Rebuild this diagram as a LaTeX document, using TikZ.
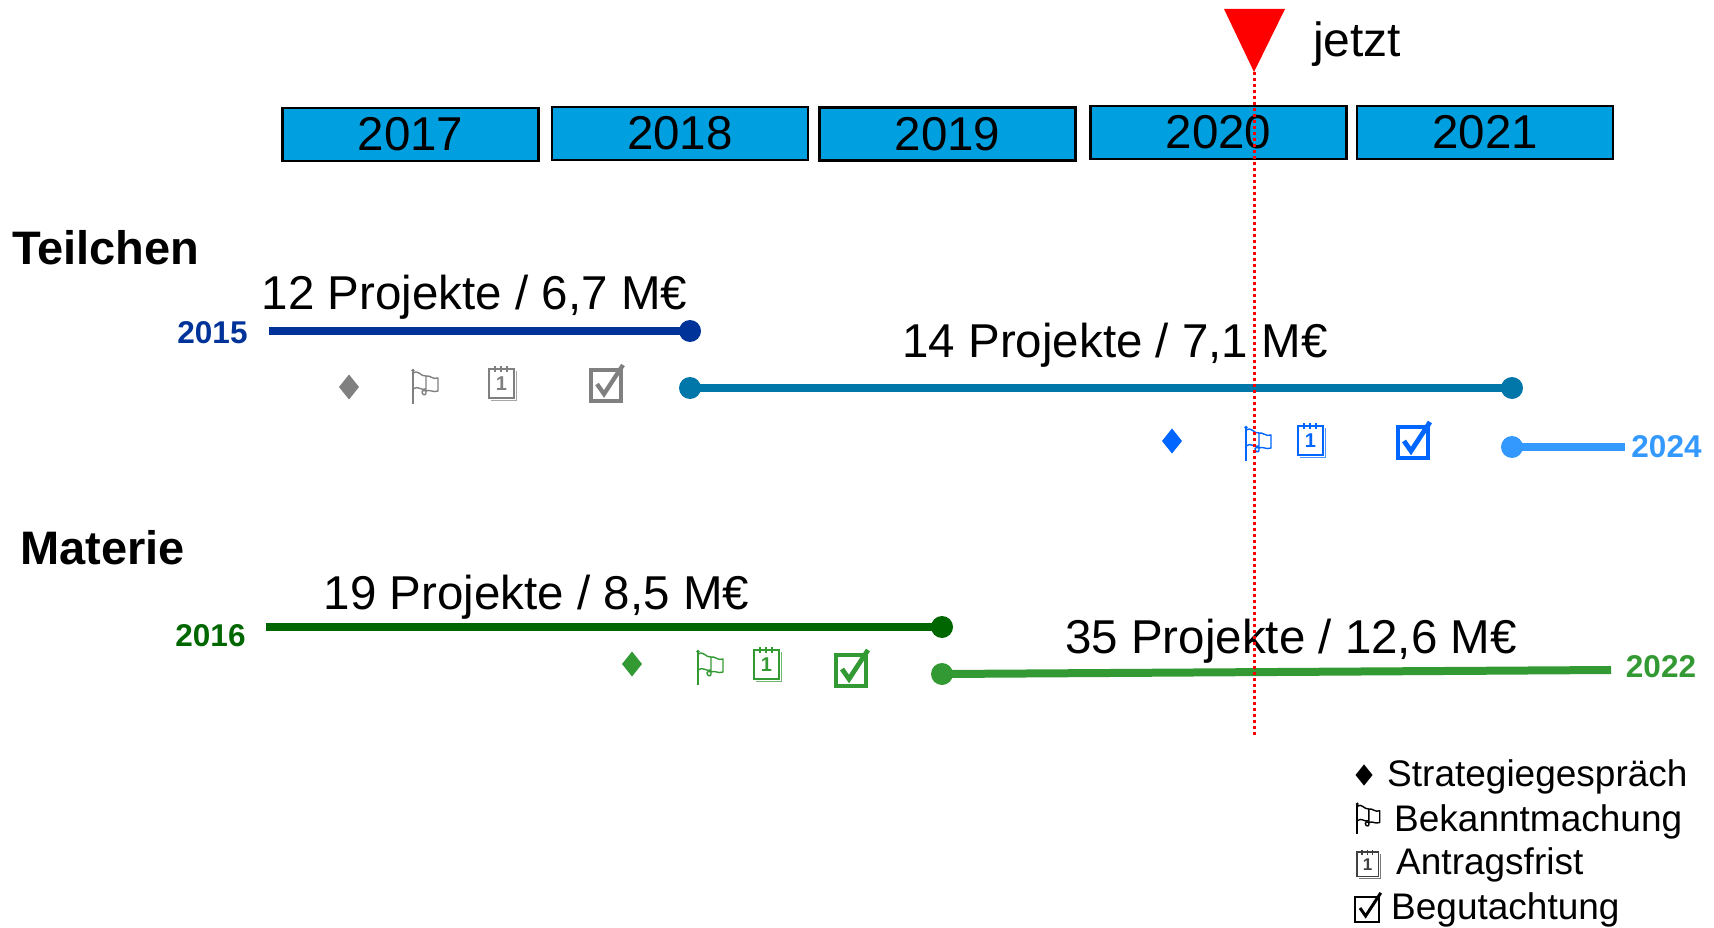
\documentclass[tikz,border=0pt]{standalone}
\usepackage{fontspec}
\setmainfont{Liberation Sans}
\definecolor{yearblue}{RGB}{0,160,224}
\definecolor{dkblue}{RGB}{0,51,153}
\definecolor{tealline}{RGB}{0,119,168}
\definecolor{ltblue}{RGB}{51,153,255}
\definecolor{dkgreen}{RGB}{0,102,0}
\definecolor{ltgreen}{RGB}{51,153,51}
\definecolor{icongray}{RGB}{128,128,128}
\definecolor{iconblue}{RGB}{0,102,255}
\definecolor{icongreen}{RGB}{51,153,51}
\tikzset{
  yearbox/.style={draw=black, line width=2.5pt, fill=yearblue, minimum width=256pt,
    minimum height=53pt, inner sep=0pt, font=\fontsize{47.5}{50}\selectfont},
  biglabel/.style={font=\fontsize{47.5}{50}\selectfont, anchor=base, inner sep=0pt},
  headlabel/.style={font=\bfseries\fontsize{47}{50}\selectfont, anchor=base west, inner sep=0pt},
  yearlabel/.style={font=\bfseries\fontsize{31.5}{33}\selectfont, anchor=base, inner sep=0pt},
  leglabel/.style={font=\fontsize{37}{40}\selectfont, anchor=base west, inner sep=0pt},
  enddot/.style={circle, fill=#1, inner sep=0pt, minimum size=22pt},
  tline/.style={draw=#1, line width=8pt},
  pics/diam/.style={code={\fill (0,-12.5) -- (10,0) -- (0,12.5) -- (-10,0) -- cycle;}},
  pics/flagicon/.style={code={
    \draw[line width=1.7pt] (-12,-15) -- (-12,18);
    \fill (-12,-15.5) circle (1.8pt);
    \draw[line width=1.4pt, line join=round] (-12,-13) .. controls (-7,-17) and (-4,-9) .. (1,-10)
       .. controls (5,-11) and (8,-6) .. (13,-8) -- (13,5) .. controls (8,7) and (5,3) .. (1,5);
    \draw[line width=1.4pt] (-12,3) .. controls (-7,-1) and (-4,5) .. (1,3);
    \draw[line width=1.4pt] (1,-10) -- (1,7) .. controls (1,10) and (-3,9) .. (-3,6)
       .. controls (-3,4) and (-1,4) .. (1,5);
  }},
  pics/calicon/.style={code={
    \draw[line width=1.3pt] (-13,-14) rectangle (12,15);
    \draw[line width=0.8pt, opacity=0.7] (-11,17) -- (14,17) -- (14,-12);
    \foreach \xx in {-7,-1,5} {\draw[line width=1.2pt] (\xx,-17) -- (\xx,-11);}
    \node[font=\bfseries\fontsize{#1}{#1}\selectfont, inner sep=0pt] at (-0.5,1) {1};
  }},
  pics/chkicon/.style={code={
    \draw[line width=#1pt] (-16,-14) rectangle (14,17);
    \draw[line width=#1pt+0.8pt, line join=miter] (-10,0) -- (-3,10) -- (16,-19);
  }},
}
\begin{document}
\begin{tikzpicture}[x=1pt, y=-1pt]
\useasboundingbox (0,0) rectangle (1714,928);

% year boxes
\node[yearbox] (y2017) at (410.5,134.5) {2017};
\node[yearbox] (y2018) at (680,133.5) {2018};
\node[yearbox] (y2019) at (947.5,134) {2019};
\node[yearbox] (y2020) at (1218.5,132.5) {2020};
\node[yearbox] (y2021) at (1485,132.5) {2021};

% now marker
\fill[red] (1224,9) -- (1285,9) -- (1254,72) -- cycle;
\node[font=\fontsize{48}{50}\selectfont, anchor=base west, inner sep=0pt] (jetzt) at (1313,57) {jetzt};

% headings
\node[headlabel] (teil) at (12,265) {Teilchen};
\node[headlabel] (mat) at (20,564) {Materie};

% Teilchen lines
\node[yearlabel, text=dkblue] (l2015) at (212.5,343) {2015};
\coordinate (t1s) at (269,331);
\node[enddot=dkblue] (t1e) at (690,331) {};
\draw[tline=dkblue] (t1s) -- (t1e.center);
\node[biglabel] (p12) at (474.5,309) {12 Projekte / 6,7 M€};

\node[enddot=tealline] (t2s) at (690,388) {};
\node[enddot=tealline] (t2e) at (1512,388) {};
\draw[tline=tealline] (t2s.center) -- (t2e.center);
\node[biglabel] (p14) at (1115,357) {14 Projekte / 7,1 M€};

\node[enddot=ltblue] (t3s) at (1512,447) {};
\coordinate (t3e) at (1625,447);
\draw[tline=ltblue] (t3s.center) -- (t3e);
\node[yearlabel, text=ltblue] (l2024) at (1666.5,457) {2024};

% Teilchen icons (gray)
\pic[icongray] at (349,387) {diam};
\pic[icongray] at (425,386) {flagicon};
\pic[icongray] at (502,383) {calicon=20};
\pic[icongray] at (607,384) {chkicon=3.5};

% Teilchen icons (blue)
\pic[iconblue] at (1172,441) {diam};
\pic[iconblue] at (1258,443) {flagicon};
\pic[iconblue] at (1311,440) {calicon=20};
\pic[iconblue] at (1414,441) {chkicon=4};

% Materie lines
\node[yearlabel, text=dkgreen] (l2016) at (210.5,646) {2016};
\coordinate (m1s) at (266,627);
\node[enddot=dkgreen] (m1e) at (942,627) {};
\draw[tline=dkgreen] (m1s) -- (m1e.center);
\node[biglabel] (p19) at (536.5,609) {19 Projekte / 8,5 M€};

\node[enddot=ltgreen] (m2s) at (942,674) {};
\coordinate (m2e) at (1611,670);
\draw[tline=ltgreen] (m2s.center) -- (m2e);
\node[biglabel] (p35) at (1291,653) {35 Projekte / 12,6 M€};
\node[yearlabel, text=ltgreen] (l2022) at (1661,677) {2022};

% Materie icons (green)
\pic[icongreen] at (632,664) {diam};
\pic[icongreen] at (710,667) {flagicon};
\pic[icongreen] at (767,664) {calicon=20};
\pic[icongreen] at (852,669) {chkicon=4};

% now dotted line
\coordinate (nowtop) at (1254,72);
\coordinate (nowbot) at (1254,737);
\draw[red, line width=3pt, dash pattern=on 3pt off 3pt] (nowtop) -- (nowbot);

% legend
\pic[black, scale=0.85] at (1364,775) {diam};
\node[leglabel] (lg1) at (1387,786) {Strategiegespräch};
\pic[black, scale=0.9] at (1368,818) {flagicon};
\node[leglabel] (lg2) at (1394,831) {Bekanntmachung};
\pic[black!75, scale=0.85] at (1368,864) {calicon=17};
\node[leglabel] (lg3) at (1396,874) {Antragsfrist};
\pic[black, scale=0.8] at (1368,908) {chkicon=2.2};
\node[leglabel] (lg4) at (1391,919) {Begutachtung};
\end{tikzpicture}
\end{document}
